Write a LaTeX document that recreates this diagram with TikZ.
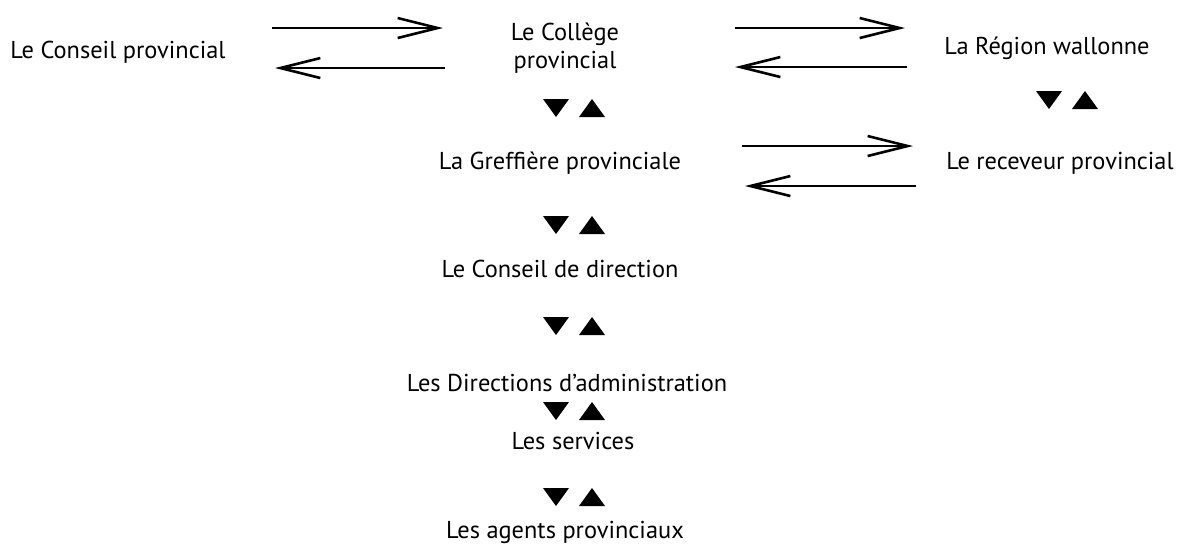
\documentclass[tikz,border=0pt]{standalone}
\usepackage{fontspec}
\setmainfont{PT Sans}
\usetikzlibrary{arrows.meta}

\begin{document}
\begin{tikzpicture}[
    x=0.5pt, y=-0.5pt,
    level/.style={font=\fontsize{12.2}{14}\selectfont, align=center, inner sep=0pt},
    flow/.style={line width=1.1pt, -{Straight Barb[length=20pt, width=10pt, line width=1.3pt]}},
    updown/.pic={
        \fill (-27,-9) -- (-1,-9) -- (-14,9) -- cycle;
        \fill (9,9) -- (35,9) -- (22,-9) -- cycle;
    }
]
\useasboundingbox (0,0) rectangle (1182,548);

% 1. Niveaux de la hiérarchie
\node[level] (conseil)   at (118,52)  {Le Conseil provincial};
\node[level] (college)   at (565,48)  {Le Collège\\provincial};
\node[level] (region)    at (1047,48) {La Région wallonne};
\node[level] (greffiere) at (560,163) {La Greffière provinciale};
\node[level] (receveur)  at (1060,163) {Le receveur provincial};
\node[level] (direction) at (560,269) {Le Conseil de direction};
\node[level] (admin)     at (567,383) {Les Directions d’administration};
\node[level] (services)  at (573,441) {Les services};
\node[level] (agents)    at (565,532) {Les agents provinciaux};

% 2. Triangles descendants / montants
\pic at (570,108) {updown};
\pic at (1063,100) {updown};
\pic at (570,225) {updown};
\pic at (570,326) {updown};
\pic at (570,411) {updown};
\pic at (570,497) {updown};

% 3. Extrémités des flèches
\coordinate (a1) at (272,28);  \coordinate (a2) at (443,28);
\coordinate (b1) at (445,68);  \coordinate (b2) at (275,68);
\coordinate (c1) at (735,28);  \coordinate (c2) at (905,28);
\coordinate (d1) at (907,67);  \coordinate (d2) at (735,67);
\coordinate (e1) at (742,146); \coordinate (e2) at (913,146);
\coordinate (f1) at (916,186); \coordinate (f2) at (745,186);

% 4. Flèches d'échange
\draw[flow] (a1) -- (a2);
\draw[flow] (b1) -- (b2);
\draw[flow] (c1) -- (c2);
\draw[flow] (d1) -- (d2);
\draw[flow] (e1) -- (e2);
\draw[flow] (f1) -- (f2);

\end{tikzpicture}
\end{document}
